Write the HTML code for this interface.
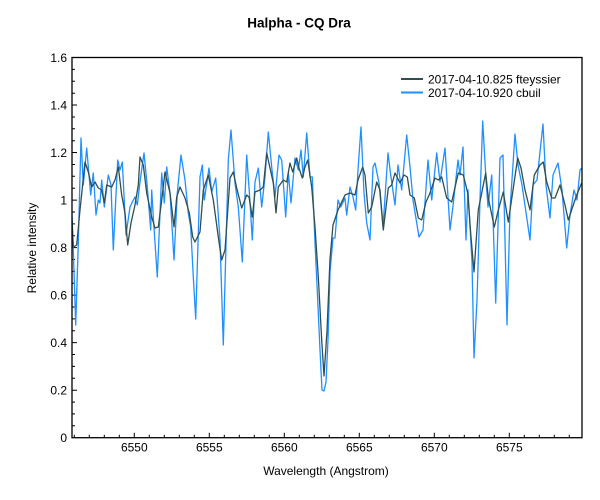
<!DOCTYPE html>
<html><head><meta charset="utf-8"><style>
html,body{margin:0;padding:0;background:#fff;}
svg{display:block;font-family:"Liberation Sans",Arial,sans-serif;}
</style></head><body>
<svg width="600" height="500" viewBox="0 0 600 500" xmlns="http://www.w3.org/2000/svg">
<rect width="600" height="500" fill="#fff"/>
<text x="299" y="27.5" font-size="13.5" font-weight="bold" text-anchor="middle" fill="#000">Halpha - CQ Dra</text>
<path stroke="#000" stroke-width="1" fill="none" d="
M72,425.8h3M72,413.9h3M72,402.1h3M72,378.3h3M72,366.4h3M72,354.5h3M72,330.8h3M72,318.9h3M72,307h3M72,283.3h3M72,271.4h3M72,259.5h3M72,235.7h3M72,223.9h3M72,212h3M72,188.2h3M72,176.3h3M72,164.5h3M72,140.7h3M72,128.8h3M72,117h3M72,93.2h3M72,81.3h3M72,69.4h3
M72,390.2h5M72,342.6h5M72,295.1h5M72,247.6h5M72,200.1h5M72,152.5h5M72,105h5
M74.3,437.7v-3M89.3,437.7v-3M104.3,437.7v-3M119.3,437.7v-3M149.3,437.7v-3M164.3,437.7v-3M179.3,437.7v-3M194.3,437.7v-3M224.3,437.7v-3M239.3,437.7v-3M254.3,437.7v-3M269.3,437.7v-3M299.3,437.7v-3M314.3,437.7v-3M329.3,437.7v-3M344.3,437.7v-3M374.3,437.7v-3M389.3,437.7v-3M404.3,437.7v-3M419.3,437.7v-3M449.3,437.7v-3M464.3,437.7v-3M479.3,437.7v-3M494.3,437.7v-3M524.3,437.7v-3M539.3,437.7v-3M554.3,437.7v-3M569.3,437.7v-3
M134.3,437.7v-5M209.3,437.7v-5M284.3,437.7v-5M359.3,437.7v-5M434.3,437.7v-5M509.3,437.7v-5"/>
<g font-size="12" fill="#000" text-anchor="end">
<text x="67" y="442">0</text>
<text x="67" y="394.5">0.2</text>
<text x="67" y="347">0.4</text>
<text x="67" y="299.5">0.6</text>
<text x="67" y="252">0.8</text>
<text x="67" y="204.5">1</text>
<text x="67" y="157">1.2</text>
<text x="67" y="109.5">1.4</text>
<text x="67" y="62">1.6</text>
</g>
<g font-size="12" fill="#000" text-anchor="middle">
<text x="134.3" y="451.5">6550</text>
<text x="209.3" y="451.5">6555</text>
<text x="284.3" y="451.5">6560</text>
<text x="359.3" y="451.5">6565</text>
<text x="434.3" y="451.5">6570</text>
<text x="509.3" y="451.5">6575</text>
<text x="326" y="475">Wavelength (Angstrom)</text>
</g>
<text x="0" y="0" font-size="12" text-anchor="middle" transform="translate(36,248) rotate(-90)">Relative intensity</text>
<svg x="72" y="57.5" width="510" height="380.2" viewBox="72 57.5 510 380.2" overflow="hidden">
<polyline fill="none" stroke="#1e90ff" stroke-width="1.3" stroke-linejoin="round" points="71.7,208 73.3,250 75.7,325 78.3,243 81,138 83.3,185 86.7,148 90.7,195 93.3,173 96,215 98.3,200 100,203 101.7,180 104.3,207 108.3,175 111,185 113.3,250 117.7,160 120,170 122.3,162 126,235 130,207 132.3,202 135,197 137.3,205 140,182 144,153 147.3,187 150.7,230 151.7,190 153.3,217 157.3,277 161.7,173 164.3,203 166.7,167 170,193 174,260 177.3,193 181,155 185,180 188.3,213 190.7,227 193.3,277 195.7,319 200,177 202.3,165 204.3,200 209,168 211.7,192 215.7,178 220,240 223.3,345 228.3,160 231,130 235,183 238.3,207 242.3,262 246.7,155 250,202 252.3,240 255,182 258.3,168 261.7,207 265,177 268.3,132 271.7,167 275,197 279,155 281.7,160 285.7,217 288.3,172 291,203 295,158 298.3,170 301,150 303.3,177 306.7,133 310,177 312.3,177 315,243 317.7,300 320,350 322,390 324,391 326,382 328,340 330,272 333,238 335,238 338,200 340.7,207 345,198 346.7,215 350,187 353,197 355.7,210 358,170 361,127 364,193 366.7,223 370,240 373,167 375,163 379,183 383,227 388,153 390.7,175 395,205 398,165 401.7,190 406.7,135 410,167 413,200 419,237 423,230 428,160 431.7,200 436.7,153 440,182 445,148 450,230 453,206 458,160 460,175 463,147 466,240 468,190 472,262 474,358 477,300 480,200 482.7,121 486,180 488,207 491.7,175 495.7,303 500,158 503,155 507,325 510,210 515,134 518,165 522,185 530,240 533,185 537,180 543,124 546,185 550,218 553,175 558,163 562,190 566.7,248 570,215 574,190 577,200 580,170 582,168"/>
<polyline fill="none" stroke="#2f4f4f" stroke-width="1.3" stroke-linejoin="round" points="71.7,215 73.3,247 76.7,245 80,210 85,162 88.3,172 91.7,187 95,182 98.3,188 101.7,190 104.3,203 106.7,185 111.7,187 115,180 118.3,167 121.7,195 125,213 127.7,245 131,223 135,205 138.3,185 140,157 143.3,165 146.7,193 151.7,217 155,228 158.3,227 161.7,200 165,172 170,193 174,227 176.7,197 180,187 185,198 189.3,213 192.7,237 195,242 200,232 203.3,190 208.3,175 213.3,200 218.3,237 221.7,260 225,250 230,178 233.3,172 236.7,188 241.7,208 246.7,195 249,197 252.3,217 255,192 260,190 263.3,187 266.7,153 270,168 273.3,183 276,213 278.3,187 283.3,180 286.7,182 290,163 292.7,172 296.7,158 299,168 302.3,178 305,167 307.7,160 311.7,187 315,227 318.3,277 321.7,340 324,376 327,331 330,259 333,225 338,210 345,195 350,193 355,195 358,180 362.7,167 365,175 368.3,213 371.7,207 376.7,182 380,190 383.3,230 388.3,188 391.7,185 395,173 400,183 404,175 407.3,177 410,195 414.3,198 418.3,218 421.7,220 426,202 430,193 435,178 438.3,180 441.7,177 446.7,198 451.7,202 458.3,173 463.3,175 467.7,193 471,237 474,272 478.3,210 485.7,173 488.3,198 494.3,227 498.3,210 503.3,192 508.3,222 513.3,188 517.7,158 521,168 525,190 530,210 534.3,175 540,165 543.3,162 546.7,182 551.7,198 555,198 560,185 565,205 568.3,220 573.3,205 576.7,195 581.7,183"/>
</svg>
<rect x="72" y="57.5" width="510" height="380.2" fill="none" stroke="#000" stroke-width="1.3"/>
<line x1="401" y1="79" x2="423" y2="79" stroke="#2f4f4f" stroke-width="2"/>
<line x1="401" y1="92.5" x2="423" y2="92.5" stroke="#1e90ff" stroke-width="2"/>
<g font-size="12" fill="#000">
<text x="428" y="83.5">2017-04-10.825<tspan x="516">fteyssier</tspan></text>
<text x="428" y="97">2017-04-10.920<tspan x="516">cbuil</tspan></text>
</g>
</svg>
</body></html>
